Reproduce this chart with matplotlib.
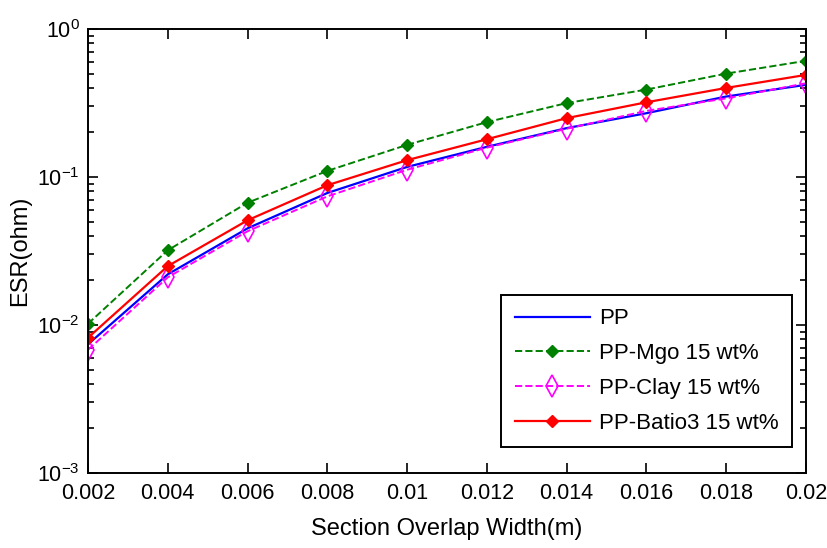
import math
import matplotlib
matplotlib.use("Agg")
import matplotlib.pyplot as plt
from matplotlib.ticker import FuncFormatter

plt.rcParams['font.family'] = ['Liberation Sans', 'DejaVu Sans']
plt.rcParams['mathtext.default'] = 'regular'

# ancho de solape (m)
anchos = [0.002, 0.004, 0.006, 0.008, 0.010, 0.012, 0.014, 0.016, 0.018, 0.020]
etiquetas_x = ['0.002', '0.004', '0.006', '0.008', '0.01', '0.012', '0.014', '0.016', '0.018', '0.02']

# ESR (ohm) de cada material
esr_pp = [0.0074, 0.0220, 0.045, 0.078, 0.117, 0.160, 0.214, 0.270, 0.350, 0.420]
esr_mgo = [0.0102, 0.0320, 0.067, 0.110, 0.165, 0.235, 0.316, 0.390, 0.500, 0.610]
esr_clay = [0.0068, 0.0210, 0.043, 0.074, 0.112, 0.158, 0.212, 0.280, 0.340, 0.430]
esr_batio3 = [0.0082, 0.0250, 0.051, 0.088, 0.130, 0.180, 0.250, 0.320, 0.400, 0.490]

fig = plt.figure(figsize=(8.27, 5.48), dpi=100)
ax = fig.add_axes([0.1064, 0.1369, 0.8682, 0.8101])

ax.plot(anchos, esr_pp, color='#0000ff', linestyle='-', linewidth=1.6, label='PP')
ax.plot(anchos, esr_mgo, color='#008000', linestyle='--', linewidth=1.4,
        marker='D', markersize=6, label='PP-Mgo 15 wt%')
ax.plot(anchos, esr_clay, color='#ff00ff', linestyle='--', linewidth=1.4,
        marker='d', markersize=11, markerfacecolor='none', markeredgewidth=1.2,
        label='PP-Clay 15 wt%')
ax.plot(anchos, esr_batio3, color='#ff0000', linestyle='-', linewidth=1.6,
        marker='D', markersize=6, label='PP-Batio3 15 wt%')

ax.set_yscale('log')
ax.set_xlim(0.002, 0.02)
ax.set_ylim(1e-3, 1e0)
ax.set_xticks(anchos)
ax.set_xticklabels(etiquetas_x)
ax.yaxis.set_major_formatter(FuncFormatter(lambda v, p: '$10^{%d}$' % round(math.log10(v))))

ax.tick_params(axis='both', which='both', direction='in', top=True, right=True,
               labelsize=15.5, width=1.2)
ax.tick_params(axis='both', which='major', length=7)
ax.tick_params(axis='x', which='major', pad=7)
ax.tick_params(axis='y', which='major', pad=6)
ax.tick_params(axis='y', which='minor', length=4)
for lado in ax.spines.values():
    lado.set_linewidth(1.4)

ax.set_xlabel('Section Overlap Width(m)', fontsize=17, labelpad=10)
ax.set_ylabel('ESR(ohm)', fontsize=17, labelpad=4)

leg = ax.legend(loc='lower right', fontsize=16, handlelength=3.4, fancybox=False,
                framealpha=1, edgecolor='black', borderpad=0.6, labelspacing=0.62,
                handletextpad=0.4, borderaxespad=0, bbox_to_anchor=(0.9805, 0.0586))
leg.get_frame().set_linewidth(1.4)

fig.savefig('out.png', dpi=100)
